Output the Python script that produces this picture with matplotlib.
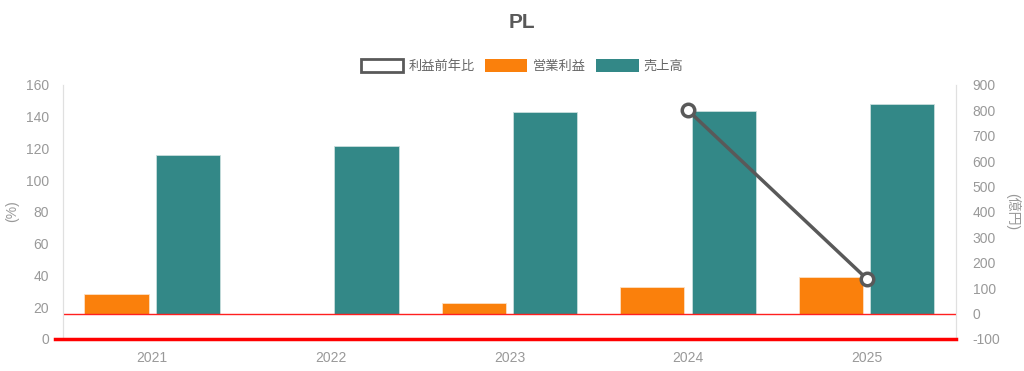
import numpy as np
import matplotlib.pyplot as plt
from matplotlib.patches import Patch
from matplotlib.lines import Line2D

plt.rcParams['font.family'] = ['Liberation Sans', 'Noto Sans CJK JP', 'DejaVu Sans']
plt.rcParams['axes.unicode_minus'] = False

# data
years = ['2021', '2022', '2023', '2024', '2025']
op_profit = [76, 0, 43, 106, 145]        # 営業利益 (億円)
sales = [624, 660, 793, 797, 826]         # 売上高 (億円)
profit_yoy = [np.nan, np.nan, np.nan, 144, 38]  # 利益前年比 (%)

left_ticks = [0, 20, 40, 60, 80, 100, 120, 140, 160]
right_ticks = [-100, 0, 100, 200, 300, 400, 500, 600, 700, 800, 900]

orange = '#fa800c'
teal = '#338887'
gray_line = '#595959'
tick_gray = '#999999'

fig = plt.figure(figsize=(10.24, 3.71), dpi=100)
ax = fig.add_axes([0.0615, 0.0863, 0.872, 0.6847])
ax2 = ax.twinx()

x = np.arange(len(years))
w = 0.36
ax2.bar(x - 0.2, op_profit, w, color=orange, edgecolor='#fde0c4', linewidth=0.6, zorder=2)
ax2.bar(x + 0.2, sales, w, color=teal, edgecolor='#c9dedd', linewidth=0.6, zorder=2)
ax2.axhline(0, color='#ff2020', linewidth=1, zorder=3)
ax2.set_ylim(-100, 900)
ax2.set_yticks(right_ticks)

ax.set_ylim(0, 160)
ax.set_yticks(left_ticks)
ax.set_xlim(-0.5, len(years) - 0.5)
ax.set_xticks(x)
ax.set_xticklabels(years)

# line on top of the bars
ax.set_zorder(ax2.get_zorder() + 1)
ax.patch.set_visible(False)
ax.plot(x, profit_yoy, color=gray_line, linewidth=2.5, marker='o', markersize=9,
        markerfacecolor='white', markeredgecolor=gray_line, markeredgewidth=2.5,
        zorder=5, clip_on=False)

for a in (ax, ax2):
    a.tick_params(length=0, colors=tick_gray, labelsize=10)
    a.spines['top'].set_visible(False)
    a.spines['left'].set_color('#e0e0e0')
    a.spines['right'].set_color('#e0e0e0')
    a.spines['bottom'].set_visible(False)
ax.tick_params(axis='y', pad=10)
ax2.tick_params(axis='y', pad=12)
ax.tick_params(axis='x', pad=9)

# thick red baseline
ax.add_line(Line2D([-0.009, 1.0], [0, 0], transform=ax.transAxes, color='#ff0000',
                   linewidth=2.5, clip_on=False, zorder=6))

fig.text(0.012, 0.43, '(%)', color=tick_gray, fontsize=10, rotation=90,
         ha='center', va='center')
fig.text(0.989, 0.43, '(億円)', color=tick_gray, fontsize=10, rotation=270,
         ha='center', va='center')

fig.text(0.51, 0.94, 'PL', ha='center', va='center', fontsize=15,
         fontweight='bold', color=gray_line)

handles = [Patch(facecolor='white', edgecolor=gray_line, linewidth=2),
           Patch(facecolor=orange), Patch(facecolor=teal)]
fig.legend(handles, ['利益前年比', '営業利益', '売上高'], loc='center',
           bbox_to_anchor=(0.51, 0.822), ncol=3, frameon=False, fontsize=9.5,
           labelcolor='#666666', handlelength=3.2, handleheight=1.1,
           handletextpad=0.4, columnspacing=0.8)

fig.savefig('out.png', dpi=100)
